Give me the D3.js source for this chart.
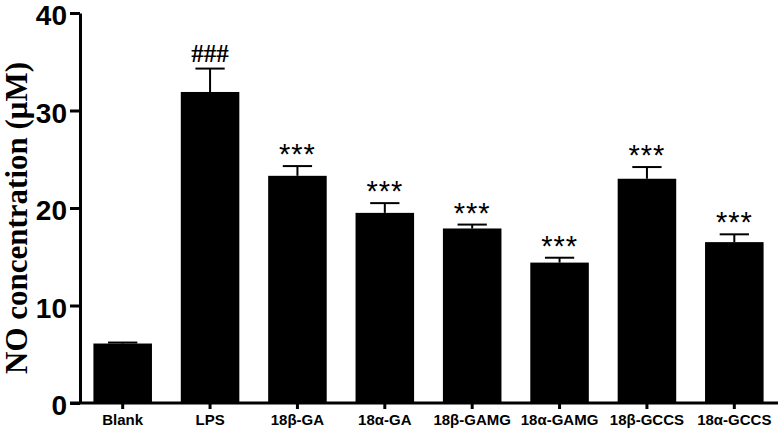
<!DOCTYPE html>
<html>
<head>
<meta charset="utf-8">
<script src="https://cdnjs.cloudflare.com/ajax/libs/d3/7.8.5/d3.min.js"></script>
<style>
  body { margin: 0; background: #fff; }
  svg { display: block; }
</style>
</head>
<body>
<div id="chart"></div>
<script>
// data
const groups = ['Blank', 'LPS', '18β-GA', '18α-GA', '18β-GAMG', '18α-GAMG', '18β-GCCS', '18α-GCCS'];
const means = [6.1, 31.9, 23.3, 19.5, 17.9, 14.4, 23.0, 16.5];
const errors = [0.1, 2.4, 1.0, 1.0, 0.4, 0.5, 1.2, 0.8];
const marks = ['', '###', '***', '***', '***', '***', '***', '***'];
const yTicks = [0, 10, 20, 30, 40];

const width = 784;
const height = 430;

const svg = d3.select('#chart')
  .append('svg')
  .attr('width', width)
  .attr('height', height);

const x = d3.scaleBand()
  .domain(groups)
  .range([79, 778])
  .paddingInner(0.33)
  .paddingOuter(0.165);

const y = d3.scaleLinear()
  .domain([0, 40])
  .range([403, 13]);

const data = groups.map((g, i) => ({ g, v: means[i], e: errors[i], m: marks[i] }));

// bars
svg.append('g')
  .selectAll('rect')
  .data(data)
  .enter()
  .append('rect')
  .attr('x', d => x(d.g))
  .attr('y', d => y(d.v))
  .attr('width', x.bandwidth())
  .attr('height', d => y(0) - y(d.v))
  .attr('fill', '#000');

// error bars (upper only)
const errG = svg.append('g').attr('stroke', '#000').attr('stroke-width', 2);
errG.selectAll('line.stem')
  .data(data)
  .enter()
  .append('line')
  .attr('class', 'stem')
  .attr('x1', d => x(d.g) + x.bandwidth() / 2)
  .attr('x2', d => x(d.g) + x.bandwidth() / 2)
  .attr('y1', d => y(d.v))
  .attr('y2', d => y(d.v + d.e));
errG.selectAll('line.cap')
  .data(data)
  .enter()
  .append('line')
  .attr('class', 'cap')
  .attr('x1', d => x(d.g) + x.bandwidth() * 0.25)
  .attr('x2', d => x(d.g) + x.bandwidth() * 0.75)
  .attr('y1', d => y(d.v + d.e))
  .attr('y2', d => y(d.v + d.e));

// significance marks
svg.append('g')
  .selectAll('text')
  .data(data.filter(d => d.m))
  .enter()
  .append('text')
  .attr('x', d => x(d.g) + x.bandwidth() / 2)
  .attr('y', d => d.m === '###' ? y(d.v + d.e) - 7 : y(d.v + d.e) - 2)
  .attr('text-anchor', 'middle')
  .style('font-family', d => d.m === '###' ? '"Liberation Serif", "Times New Roman", serif' : '"Liberation Sans", Arial, sans-serif')
  .style('font-weight', d => d.m === '###' ? 'bold' : 'normal')
  .style('font-size', d => d.m === '###' ? '25px' : '29px')
  .style('letter-spacing', d => d.m === '###' ? '0px' : '1px')
  .text(d => d.m);

// y axis
const yAxis = d3.axisLeft(y)
  .tickValues(yTicks)
  .tickSize(10)
  .tickSizeOuter(0)
  .tickPadding(3);

const yAxisEl = svg.append('g')
  .attr('transform', 'translate(80,0)')
  .call(yAxis);
yAxisEl.select('.domain').attr('stroke-width', 3);
yAxisEl.selectAll('.tick line').attr('stroke-width', 3);
yAxisEl.selectAll('text')
  .attr('dy', '0.42em')
  .style('font-family', '"Liberation Sans", Arial, sans-serif')
  .style('font-weight', 'bold')
  .style('font-size', '28px')
  .attr('fill', '#000');

// x axis
const xAxis = d3.axisBottom(x)
  .tickSize(6)
  .tickSizeOuter(0)
  .tickPadding(5);

const xAxisEl = svg.append('g')
  .attr('transform', 'translate(0,403)')
  .call(xAxis);
xAxisEl.select('.domain').attr('d', 'M70,0H778').attr('stroke-width', 3);
xAxisEl.selectAll('.tick line').attr('stroke-width', 3);
xAxisEl.selectAll('text')
  .style('font-family', '"Liberation Sans", Arial, sans-serif')
  .style('font-weight', 'bold')
  .style('font-size', '15px')
  .attr('fill', '#000');

// y title
svg.append('text')
  .attr('transform', 'translate(27,218) rotate(-90)')
  .attr('text-anchor', 'middle')
  .style('font-family', '"Liberation Serif", "Times New Roman", serif')
  .style('font-weight', 'bold')
  .style('font-size', '31px')
  .text('NO concentration (μM)');
</script>
</body>
</html>
